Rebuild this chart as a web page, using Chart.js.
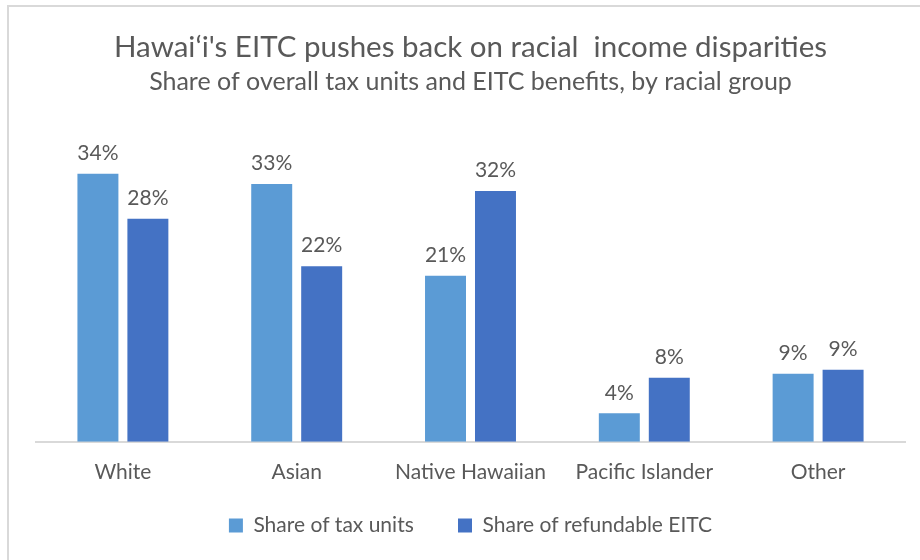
<!DOCTYPE html>
<html>
<head>
<meta charset="utf-8">
<script src="https://cdn.jsdelivr.net/npm/chart.js@4"></script>
<style>
  body { margin: 0; background: #fff; }
  #wrap { position: relative; width: 920px; height: 560px; }
  #frame { position: absolute; left: 7px; top: 5px; right: 0; bottom: 0;
           border-left: 2px solid #d9d9d9; border-top: 2px solid #d9d9d9; }
  #chart { position: absolute; left: 0; top: 0; }
</style>
</head>
<body>
<div id="wrap">
  <div id="frame"></div>
  <canvas id="chart" width="920" height="560"></canvas>
</div>
<script>
const groups = ['White', 'Asian', 'Native Hawaiian', 'Pacific Islander', 'Other'];
const taxUnits = [33.9, 32.6, 21.0, 3.6, 8.6];
const refundableEitc = [28.2, 22.2, 31.7, 8.1, 9.1];

const textColor = '#595959';
const fontFamily = 'Lato, "Open Sans", sans-serif';

// small inline plugin for the % labels above bars
const barLabels = {
    id: 'barLabels',
    afterDatasetsDraw(chart) {
        const ctx = chart.ctx;
        ctx.save();
        ctx.fillStyle = textColor;
        ctx.font = '21px ' + fontFamily;
        ctx.textAlign = 'center';
        ctx.textBaseline = 'bottom';
        chart.data.datasets.forEach((ds, i) => {
            chart.getDatasetMeta(i).data.forEach((bar, j) => {
                ctx.fillText(Math.round(ds.data[j]) + '%', bar.x, bar.y - 10);
            });
        });
        ctx.restore();
    }
};

const defaultLegendLabels = Chart.defaults.plugins.legend.labels.generateLabels;

new Chart(document.getElementById('chart').getContext('2d'), {
    type: 'bar',
    data: {
        labels: groups,
        datasets: [{
            label: 'Share of tax units',
            data: taxUnits,
            backgroundColor: '#5b9bd5'
        }, {
            label: 'Share of refundable EITC',
            data: refundableEitc,
            backgroundColor: '#4472c4'
        }]
    },
    options: {
        responsive: false,
        animation: false,
        categoryPercentage: 0.575,
        barPercentage: 0.82,
        layout: { padding: { left: 36, right: 15, top: 0, bottom: 14 } },
        scales: {
            x: {
                grid: { display: false, drawTicks: false },
                border: { display: true, color: '#d9d9d9', width: 2 },
                ticks: { color: textColor, font: { family: fontFamily, size: 21 }, padding: 18 }
            },
            y: {
                display: false,
                min: 0,
                max: 40
            }
        },
        plugins: {
            title: {
                display: true,
                text: 'Hawai\u2018i\'s EITC pushes back on racial  income disparities',
                color: textColor,
                font: { family: fontFamily, size: 29.5, weight: 'normal' },
                padding: { top: 30, bottom: 0 }
            },
            subtitle: {
                display: true,
                text: 'Share of overall tax units and EITC benefits, by racial group',
                color: textColor,
                font: { family: fontFamily, size: 25 },
                padding: { top: 2, bottom: 28 }
            },
            legend: {
                position: 'bottom',
                labels: {
                    color: textColor,
                    font: { family: fontFamily, size: 21 },
                    boxWidth: 14,
                    boxHeight: 14,
                    padding: 12,
                    // wider gap between the two entries without a tall legend
                    generateLabels(chart) {
                        const items = defaultLegendLabels(chart);
                        items[0].text += '      ';
                        return items;
                    }
                }
            },
            tooltip: { enabled: false }
        }
    },
    plugins: [barLabels]
});
</script>
</body>
</html>
